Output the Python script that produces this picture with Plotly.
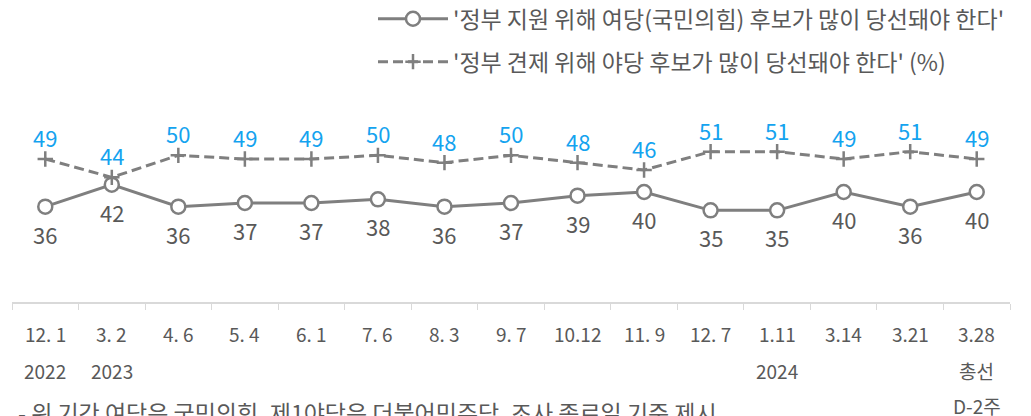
import plotly.graph_objects as go

dates = ["12. 1", "3. 2", "4. 6", "5. 4", "6. 1", "7. 6", "8. 3", "9. 7",
         "10.12", "11. 9", "12. 7", "1.11", "3.14", "3.21", "3.28"]
years = ["2022", "2023", "", "", "", "", "", "", "", "", "", "2024", "", "", "총선"]
extra = ["", "", "", "", "", "", "", "", "", "", "", "", "", "", "D-2주"]
support = [36, 42, 36, 37, 37, 38, 36, 37, 39, 40, 35, 35, 40, 36, 40]
check = [49, 44, 50, 49, 49, 50, 48, 50, 48, 46, 51, 51, 49, 51, 49]
name_support = "'정부 지원 위해 여당(국민의힘) 후보가 많이 당선돼야 한다'"
name_check = "'정부 견제 위해 야당 후보가 많이 당선돼야 한다' (%)"
footnote = "- 위 기간 여당은 국민의힘, 제1야당은 더불어민주당. 조사 종료일 기준 제시"

FONT = "Noto Sans CJK KR"
GRAY = "#7f7f7f"
TXT = "#595959"
BLUE = "#14a3ef"

x = list(range(len(dates)))

fig = go.Figure()
fig.add_trace(go.Scatter(
    x=x, y=support, name=name_support, mode="lines+markers",
    line=dict(color=GRAY, width=3),
    marker=dict(symbol="circle", size=14, color="white",
                line=dict(color=GRAY, width=2.5)),
    legendgroup="a",
))
fig.add_trace(go.Scatter(
    x=x, y=check, name=name_check, mode="lines+markers",
    line=dict(color=GRAY, width=3, dash="10px,5px"),
    marker=dict(symbol="cross-thin", size=11, color=GRAY,
                line=dict(color=GRAY, width=2.5)),
    legendgroup="b",
))

ann = []
for i, v in enumerate(support):
    ann.append(dict(x=i, y=v, xref="x", yref="y", text=str(v), showarrow=False,
                    yshift=-27, font=dict(family=FONT, size=22, color=TXT)))
for i, v in enumerate(check):
    ann.append(dict(x=i, y=v, xref="x", yref="y", text=str(v), showarrow=False,
                    yshift=22, font=dict(family=FONT, size=22, color=BLUE)))
for i in x:
    for txt, sh in ((dates[i], -31), (years[i], -68), (extra[i], -103)):
        if txt:
            ann.append(dict(x=i, y=10, xref="x", yref="y", text=txt, showarrow=False,
                            yshift=sh, font=dict(family=FONT, size=19, color=TXT)))
ann.append(dict(x=0, y=10, xref="paper", yref="y", text=footnote, showarrow=False,
                xanchor="left", xshift=4, yshift=-110,
                font=dict(family=FONT, size=23, color=TXT)))

fig.update_layout(
    width=1023, height=408,
    margin=dict(l=4, r=21, t=74, b=114, autoexpand=False),
    paper_bgcolor="white", plot_bgcolor="white",
    showlegend=True,
    legend=dict(x=1.0, xanchor="right", y=1.385, yanchor="top",
                font=dict(family=FONT, size=23, color=TXT),
                itemwidth=70, tracegroupgap=10, bgcolor="rgba(0,0,0,0)"),
    annotations=ann,
    xaxis=dict(range=[-0.5, 14.5], showgrid=False, zeroline=False,
               showline=True, linecolor="#d9d9d9", linewidth=1.5,
               tickvals=[i - 0.5 for i in range(len(dates) + 1)],
               ticks="outside", ticklen=6, tickcolor="#d9d9d9",
               showticklabels=False, fixedrange=True),
    yaxis=dict(range=[10, 70], visible=False, fixedrange=True),
)
fig.write_html("out.html")
